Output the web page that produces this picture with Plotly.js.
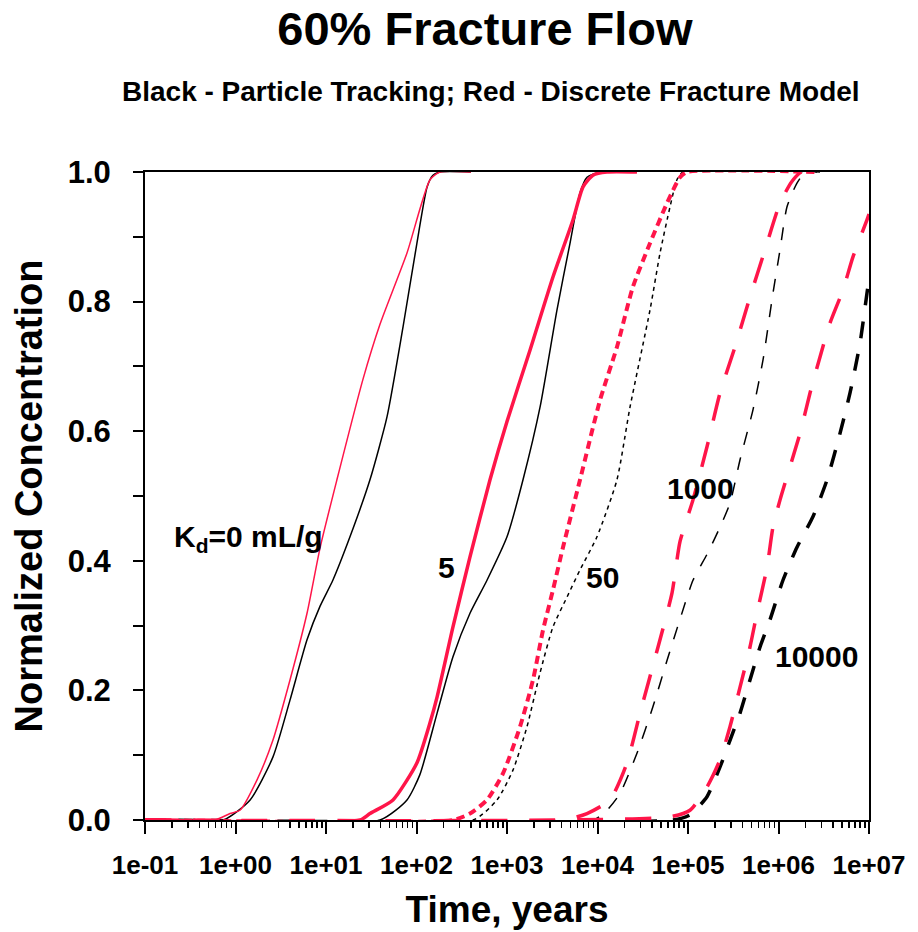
<!DOCTYPE html>
<html>
<head>
<meta charset="utf-8">
<script src="https://cdn.plot.ly/plotly-3.0.1.min.js"></script>
<style>
  html, body { margin: 0; padding: 0; background: #ffffff; }
  #chart { width: 918px; height: 932px; }
</style>
</head>
<body>
<div id="chart"></div>
<script>
// Breakthrough curves, time in years vs normalized concentration.
// Black = particle tracking, red = discrete fracture model; one pair per Kd (mL/g).

const timeTicks = [0.1, 1, 10, 100, 1e3, 1e4, 1e5, 1e6, 1e7];
const timeTickText = ['1e-01', '1e+00', '1e+01', '1e+02', '1e+03', '1e+04', '1e+05', '1e+06', '1e+07'];

// Kd = 0
const ptKd0_t = [0.1, 0.73, 1.45, 2.59, 4.0, 6.17, 8.6, 11.9, 18.4, 30.6, 47.2, 71, 101, 131, 152, 182, 400];
const ptKd0_c = [0, 0, 0.031, 0.097, 0.185, 0.278, 0.33, 0.37, 0.437, 0.525, 0.622, 0.761, 0.89, 0.977, 0.995, 1.0, 1.0];
const dfmKd0_t = [0.1, 0.59, 0.87, 1.12, 1.73, 2.59, 4.0, 6.17, 8.6, 13.2, 25.6, 39.5, 78.5, 141, 182, 400];
const dfmKd0_c = [0, 0, 0.01, 0.015, 0.062, 0.123, 0.216, 0.319, 0.42, 0.525, 0.68, 0.765, 0.875, 0.988, 1.0, 1.0];

// Kd = 5
const ptKd5_t = [0.1, 39.5, 78.5, 109, 169, 253, 390, 601, 1000, 1503, 2317, 3565, 4966, 6412, 7656, 10666, 27290];
const ptKd5_c = [0, 0, 0.031, 0.07, 0.165, 0.252, 0.319, 0.37, 0.437, 0.525, 0.637, 0.787, 0.89, 0.968, 0.992, 1.0, 1.0];
const dfmKd5_t = [0.1, 23.8, 30.6, 55, 101, 141, 169, 253, 390, 649, 1000, 1795, 3221, 5358, 6918, 8913, 12735, 27290];
const dfmKd5_c = [0, 0, 0.01, 0.031, 0.088, 0.15, 0.19, 0.298, 0.406, 0.525, 0.615, 0.725, 0.838, 0.926, 0.977, 0.995, 1.0, 1.0];

// Kd = 50
const ptKd50_t = [0.1, 421, 776, 1164, 1663, 2317, 3221, 4603, 6412, 9863, 16406, 22856, 38019, 49091, 63241, 75509, 88105, 2.66e6];
const ptKd50_c = [0, 0, 0.031, 0.077, 0.144, 0.227, 0.298, 0.344, 0.386, 0.437, 0.525, 0.637, 0.787, 0.875, 0.946, 0.988, 1.0, 1.0];
const dfmKd50_t = [0.1, 253, 390, 601, 904, 1393, 1936, 2500, 3221, 4159, 6412, 10666, 16406, 24660, 38019, 58614, 81658, 97499, 2.66e6];
const dfmKd50_c = [0, 0, 0.01, 0.031, 0.072, 0.144, 0.216, 0.293, 0.355, 0.421, 0.525, 0.648, 0.73, 0.823, 0.89, 0.952, 0.992, 1.0, 1.0];

// Kd = 1000
const ptKd1000_t = [0.1, 8913, 12735, 17742, 27290, 41020, 58614, 81658, 113501, 162181, 225944, 291072, 375837, 522396, 674528, 868960, 1.04e6, 1.24e6, 1.6e6, 2.0e6, 2.88e6];
const ptKd1000_c = [0, 0, 0.015, 0.041, 0.103, 0.175, 0.246, 0.31, 0.37, 0.41, 0.452, 0.489, 0.556, 0.633, 0.71, 0.813, 0.88, 0.946, 0.983, 1.0, 1.0];
const dfmKd1000_t = [0.1, 4159, 7656, 13740, 21184, 29512, 46666, 66527, 81658, 113501, 162181, 225944, 330370, 484172, 709578, 1.04e6, 1.4e6, 1.8e6, 2.66e6];
const dfmKd1000_c = [0, 0, 0.01, 0.031, 0.088, 0.165, 0.267, 0.35, 0.43, 0.494, 0.576, 0.659, 0.73, 0.807, 0.88, 0.952, 0.985, 1.0, 1.0];

// Kd = 10000
const ptKd10000_t = [0.1, 68234, 105196, 162181, 225944, 291072, 375837, 484172, 625173, 805378, 1.12e6, 1.6e6, 2.4e6, 3.44e6, 4.79e6, 6.17e6, 7.96e6, 9.5e6, 1e7];
const ptKd10000_c = [0, 0, 0.008, 0.036, 0.082, 0.123, 0.165, 0.216, 0.267, 0.309, 0.37, 0.421, 0.468, 0.525, 0.597, 0.659, 0.736, 0.813, 0.835];
const dfmKd10000_t = [0.1, 63241, 105196, 162181, 225944, 291072, 375837, 484172, 578096, 746449, 868960, 1.04e6, 1.73e6, 2.23e6, 2.88e6, 3.71e6, 5.16e6, 6.65e6, 9.5e6, 1e7];
const dfmKd10000_c = [0, 0.005, 0.015, 0.051, 0.093, 0.144, 0.205, 0.267, 0.319, 0.39, 0.452, 0.494, 0.597, 0.659, 0.715, 0.767, 0.818, 0.869, 0.926, 0.935];

// Curve labels: text, time, concentration
const labelText = ['K<sub>d</sub>=0 mL/g', '5', '50', '1000', '10000'];
const labelTime = [0.2, 217, 11220, 139000, 2.66e6];
const labelConc = [0.435, 0.389, 0.375, 0.512, 0.252];

const RED = '#ff1549';
const BLACK = '#000000';
const FONT = 'Liberation Sans, Arial, Helvetica, sans-serif';

function curve(x, y, color, width, dash) {
  return {
    type: 'scatter', mode: 'lines', x: x, y: y,
    line: { color: color, width: width, dash: dash, shape: 'spline', smoothing: 0.6 },
    hoverinfo: 'skip', showlegend: false
  };
}

const traces = [
  curve(ptKd0_t, ptKd0_c, BLACK, 1.5, 'solid'),
  curve(ptKd5_t, ptKd5_c, BLACK, 1.5, 'solid'),
  curve(ptKd50_t, ptKd50_c, BLACK, 1.5, '4px,4px'),
  curve(ptKd1000_t, ptKd1000_c, BLACK, 1.5, '13px,13px'),
  curve(ptKd10000_t, ptKd10000_c, BLACK, 3.5, '17px,16px'),
  curve(dfmKd0_t, dfmKd0_c, RED, 1.5, 'solid'),
  curve(dfmKd5_t, dfmKd5_c, RED, 3.5, 'solid'),
  curve(dfmKd50_t, dfmKd50_c, RED, 4, '8px,5px'),
  curve(dfmKd1000_t, dfmKd1000_c, RED, 3.5, '26px,22px'),
  curve(dfmKd10000_t, dfmKd10000_c, RED, 3.5, '26px,22px')
];

const curveLabels = labelText.map((t, i) => ({
  text: t, x: Math.log10(labelTime[i]), y: labelConc[i], xref: 'x', yref: 'y',
  xanchor: i === 0 ? 'left' : 'center', yanchor: 'middle', showarrow: false,
  font: { family: FONT, size: 30, color: '#000', weight: 'bold' }
}));

const layout = {
  width: 918, height: 932,
  paper_bgcolor: '#ffffff', plot_bgcolor: '#ffffff',
  margin: { l: 145, r: 49, t: 172, b: 112 },
  font: { family: FONT, color: '#000', weight: 'bold' },
  title: {
    text: '60% Fracture Flow',
    font: { family: FONT, size: 47, color: '#000', weight: 'bold' },
    x: 485 / 918, xanchor: 'center', xref: 'container',
    y: 1 - 29 / 932, yanchor: 'middle', yref: 'container'
  },
  xaxis: {
    type: 'log', range: [-1, 7],
    tickmode: 'array', tickvals: timeTicks, ticktext: timeTickText,
    ticks: 'outside', ticklen: 12, tickwidth: 2, tickcolor: '#000',
    ticklabelstandoff: 9,
    tickfont: { family: FONT, size: 26, color: '#000', weight: 'bold' },
    minor: { ticks: 'outside', ticklen: 6, tickwidth: 1.5, tickcolor: '#000', dtick: 'D1', showgrid: false },
    showline: true, linecolor: '#000', linewidth: 2, mirror: true,
    showgrid: false, zeroline: false, layer: 'below traces',
    title: { text: 'Time, years', font: { family: FONT, size: 37, color: '#000', weight: 'bold' }, standoff: 17 }
  },
  yaxis: {
    range: [0, 1], dtick: 0.2, tick0: 0, tickformat: '.1f',
    ticks: 'outside', ticklen: 10, tickwidth: 2, tickcolor: '#000',
    ticklabelstandoff: 16,
    tickfont: { family: FONT, size: 31, color: '#000', weight: 'bold' },
    minor: { ticks: 'outside', ticklen: 10, tickwidth: 2, tickcolor: '#000', dtick: 0.1, showgrid: false },
    showline: true, linecolor: '#000', linewidth: 2, mirror: true,
    showgrid: false, zeroline: false, layer: 'below traces',
    title: { text: 'Normalized Concentration', font: { family: FONT, size: 38, color: '#000', weight: 'bold' }, standoff: 13 }
  },
  annotations: [
    {
      text: 'Black - Particle Tracking; Red - Discrete Fracture Model',
      xref: 'paper', yref: 'paper', x: (491 - 145) / 724, y: (820 - 92) / 648,
      xanchor: 'center', yanchor: 'middle', showarrow: false,
      font: { family: FONT, size: 28, color: '#000', weight: 'bold' }
    }
  ].concat(curveLabels)
};

Plotly.newPlot('chart', traces, layout, { staticPlot: true, displayModeBar: false });
</script>
</body>
</html>
